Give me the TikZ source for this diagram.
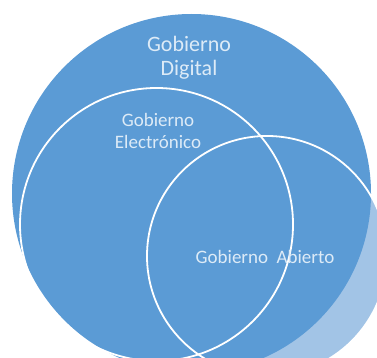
\documentclass[tikz,border=0pt]{standalone}
\usepackage{fontspec}
\setmainfont{Carlito}
\definecolor{bigblue}{HTML}{5B9BD5}
\definecolor{lightblue}{HTML}{A2C4E6}
\definecolor{txtblue}{HTML}{DDEBF7}
\tikzset{
  ring/.style={circle, draw=white, line width=1.8pt, inner sep=0pt},
  lab/.style={text=txtblue, align=center, inner sep=0pt},
}
\begin{document}
\begin{tikzpicture}[x=1pt,y=-1pt]
\useasboundingbox (0,0) rectangle (377,358);
\clip (0,0) rectangle (377,358);
% light part of Gobierno Abierto (outside the big circle)
\node[circle, fill=lightblue, minimum size=240pt, inner sep=0pt] (abiertofill) at (267,256) {};
% Gobierno Digital
\node[circle, fill=bigblue, minimum size=359pt, inner sep=0pt] (digital) at (191.5,193.5) {};
% Gobierno Electronico
\node[ring, minimum size=273pt] (electronico) at (156.5,224.5) {};
% Gobierno Abierto
\node[ring, minimum size=240pt] (abierto) at (267,256) {};
% labels
\node[lab, font=\fontsize{22}{23.5}\selectfont] (tdig) at (189,58) {Gobierno\\Digital};
\node[lab, font=\fontsize{19}{22}\selectfont] (tele) at (158,131) {Gobierno\\Electrónico};
\node[lab, font=\fontsize{19}{22}\selectfont] (tab) at (265,257) {Gobierno\hspace{0.45em}Abierto};
\end{tikzpicture}
\end{document}
